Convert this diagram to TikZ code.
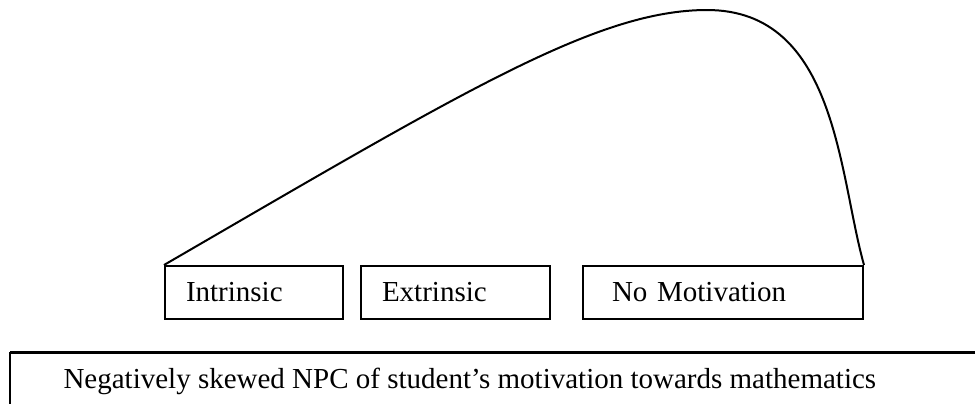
\documentclass[tikz,border=0pt]{standalone}
\usepackage{fontspec}
\setmainfont{Liberation Serif}
\usepackage{tikz}
\usetikzlibrary{positioning}

\begin{document}
\begin{tikzpicture}[
  x=0.4pt,y=-0.4pt,
  font=\fontsize{11.6}{14}\selectfont,
  mbox/.style={rectangle,draw,line width=0.8pt,anchor=north west,minimum height=21.2pt,inner xsep=8.4pt,inner ysep=0pt,text width=#1,align=left},
  curve/.style={line width=0.8pt},
  rule/.style={line width=1.2pt}
]
  \useasboundingbox (0,0) rectangle (975,403);

  % motivation categories
  \node[mbox=54.4pt] (intr) at (164,265) {Intrinsic};
  \node[mbox=58.8pt] (extr) at (360,265) {Extrinsic};
  \node[mbox=88.8pt,inner xsep=11.6pt] (nomo) at (582,265) {No Motivation};

  % skewed curve over the boxes
  \coordinate (peak) at (707,10);
  \draw[curve] (intr.north west) .. controls (464,91) and (597,10) .. (peak)
    .. controls (837,10) and (838.6,175) .. (nomo.north east);

  % caption box, cut off by the page edge
  \node[anchor=base west,inner sep=0pt] (cap) at (63,388) {Negatively skewed NPC of student’s motivation towards mathematics};
  \draw[rule] (10,352) -- (990,352);
  \draw[line width=0.6pt] (10,352) -- (10,420);
\end{tikzpicture}
\end{document}
